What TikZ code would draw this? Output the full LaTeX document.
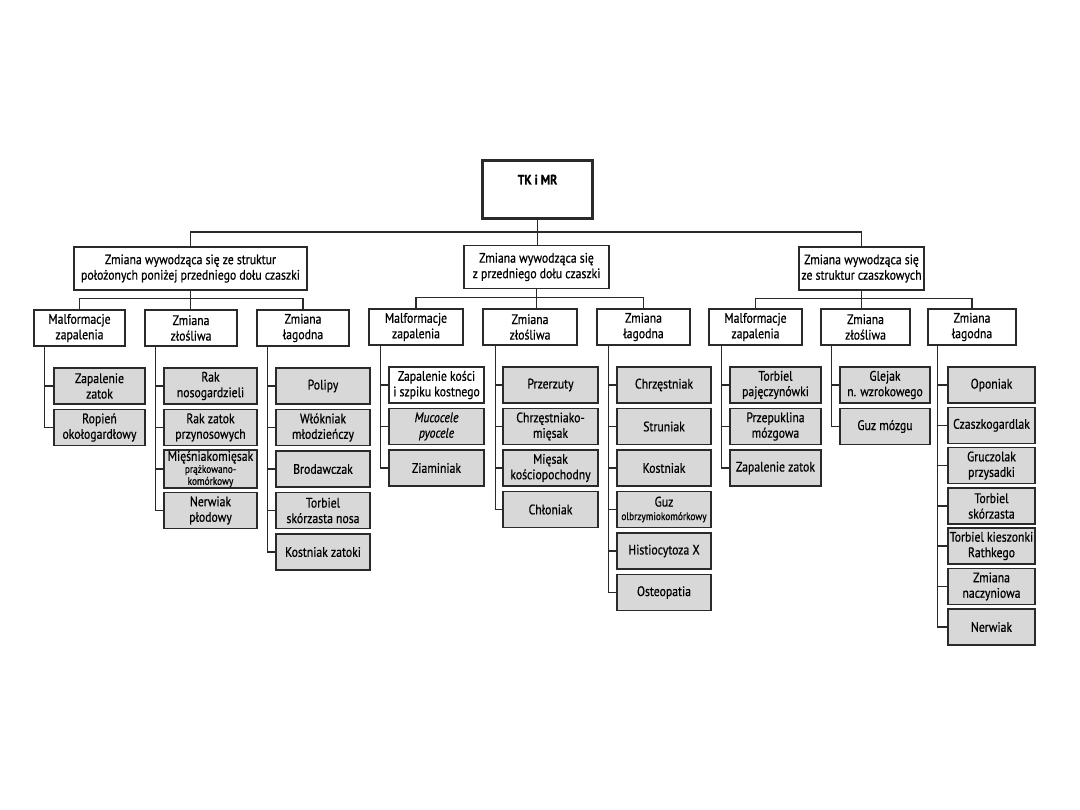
\documentclass[tikz,border=0pt]{standalone}
\usepackage{fontspec}
\setmainfont{PT Sans}[FakeStretch=0.85, FakeBold=0.6]
\newcommand\myfs{\fontsize{13.8}{15.5}\selectfont}
\newcommand\mysm{\fontsize{11}{11.5}\selectfont}
\definecolor{linec}{HTML}{2A2A2A}
\definecolor{leafc}{HTML}{D8D8D8}
\tikzset{
  base/.style={draw=linec, line width=1.3pt, align=center, inner sep=1pt, font=\myfs},
  lone/.style={base, fill=white, minimum height=43},
  ltwo/.style={base, fill=white, minimum height=36},
  leaf/.style={base, fill=leafc, minimum height=36},
  leafw/.style={base, fill=white, minimum height=36},
  tkbox/.style={draw=linec, line width=3pt, fill=white, minimum width=110, inner xsep=2pt, inner ysep=12pt, text height=12pt, text depth=22pt, font=\myfs\bfseries},
  conn/.style={draw=linec, line width=1.1pt},
}
\begin{document}
\begin{tikzpicture}[x=1pt,y=-1pt]
\path[use as bounding box, fill=white] (0,0) rectangle (1080,810);

\node[tkbox, anchor=north] (tk) at (537.5,159) {TK i MR};

\node[lone, minimum width=233] (A) at (190.5,268.5) {Zmiana wywodząca się ze struktur\\położonych poniżej przedniego dołu czaszki};
\node[lone, minimum width=145] (B) at (536.5,267) {Zmiana wywodząca się\\z przedniego dołu czaszki};
\node[lone, minimum width=125] (C) at (861.5,268.5) {Zmiana wywodząca się\\ze struktur czaszkowych};

\node[ltwo, minimum width=91] (A1) at (79.5,328) {Malformacje\\zapalenia};
\node[ltwo, minimum width=92] (A2) at (191,328) {Zmiana\\złośliwa};
\node[ltwo, minimum width=92] (A3) at (303,328) {Zmiana\\łagodna};
\node[ltwo, minimum width=94] (B1) at (416,327) {Malformacje\\zapalenia};
\node[ltwo, minimum width=94] (B2) at (530,327) {Zmiana\\złośliwa};
\node[ltwo, minimum width=93] (B3) at (643.5,327) {Zmiana\\łagodna};
\node[ltwo, minimum width=93] (C1) at (755.5,327) {Malformacje\\zapalenia};
\node[ltwo, minimum width=89] (C2) at (865.5,327) {Zmiana\\złośliwa};
\node[ltwo, minimum width=88] (C3) at (972,327) {Zmiana\\łagodna};

% left group leaves
\node[leaf, minimum width=91] (a11) at (99.5,386) {Zapalenie\\zatok};
\node[leaf, minimum width=91] (a12) at (99.5,427.5) {Ropień\\okołogardłowy};
\node[leaf, minimum width=93] (a21) at (210.5,386) {Rak\\nosogardzieli};
\node[leaf, minimum width=93] (a22) at (210.5,427.5) {Rak zatok\\przynosowych};
\node[leaf, minimum width=93, inner xsep=0pt] (a23) at (210.5,469) {Mięśniakomięsak\\[-3.5pt]{\mysm prążkowano-}\\[-3.5pt]{\mysm komórkowy}};
\node[leaf, minimum width=93] (a24) at (210.5,510.5) {Nerwiak\\płodowy};
\node[leaf, minimum width=94] (a31) at (323,386) {Polipy};
\node[leaf, minimum width=94] (a32) at (323,427.5) {Włókniak\\młodzieńczy};
\node[leaf, minimum width=94] (a33) at (323,469) {Brodawczak};
\node[leaf, minimum width=94] (a34) at (323,510.5) {Torbiel\\skórzasta nosa};
\node[leaf, minimum width=94] (a35) at (323,552) {Kostniak zatoki};

% middle group leaves
\node[leafw, minimum width=95] (b11) at (436.5,385) {Zapalenie kości\\i szpiku kostnego};
\node[leaf, minimum width=95] (b12) at (436.5,426.5) {\itshape Mucocele\\\itshape pyocele};
\node[leaf, minimum width=95] (b13) at (436.5,468) {Ziaminiak};
\node[leaf, minimum width=95] (b21) at (550.5,385) {Przerzuty};
\node[leaf, minimum width=95] (b22) at (550.5,426.5) {Chrzęstniako-\\mięsak};
\node[leaf, minimum width=95] (b23) at (550.5,468) {Mięsak\\kościopochodny};
\node[leaf, minimum width=95] (b24) at (550.5,509.5) {Chłoniak};
\node[leaf, minimum width=94] (b31) at (664,385) {Chrzęstniak};
\node[leaf, minimum width=94] (b32) at (664,426.5) {Struniak};
\node[leaf, minimum width=94] (b33) at (664,468) {Kostniak};
\node[leaf, minimum width=94, inner xsep=0pt] (b34) at (664,509.5) {Guz\\[-2pt]{\mysm olbrzymiokomórkowy}};
\node[leaf, minimum width=94] (b35) at (664,551) {Histiocytoza X};
\node[leaf, minimum width=94] (b36) at (664,592.5) {Osteopatia};

% right group leaves
\node[leaf, minimum width=91] (c11) at (775.5,385) {Torbiel\\pajęczynówki};
\node[leaf, minimum width=91] (c12) at (775.5,426.5) {Przepuklina\\mózgowa};
\node[leaf, minimum width=91] (c13) at (775.5,468) {Zapalenie zatok};
\node[leaf, minimum width=90] (c21) at (885,385) {Glejak\\n. wzrokowego};
\node[leaf, minimum width=90] (c22) at (885,426.5) {Guz mózgu};
\node[leaf, minimum width=87] (c31) at (991.5,385) {Oponiak};
\node[leaf, minimum width=87] (c32) at (991.5,425.3) {Czaszkogardlak};
\node[leaf, minimum width=87] (c33) at (991.5,465.6) {Gruczolak\\przysadki};
\node[leaf, minimum width=87] (c34) at (991.5,506) {Torbiel\\skórzasta};
\node[leaf, minimum width=87, inner xsep=0pt] (c35) at (991.5,546) {Torbiel kieszonki\\Rathkego};
\node[leaf, minimum width=87] (c36) at (991.5,586.5) {Zmiana\\naczyniowa};
\node[leaf, minimum width=87] (c37) at (991.5,627) {Nerwiak};

% top connectors
\draw[conn] (tk.south) -- ++(0,12) -| (A.north);
\draw[conn] (tk.south) -- ++(0,12) -| (C.north);
\draw[conn] (tk.south) -- (tk.south |- B.north);

% level 1 to level 2
\foreach \P in {A,B,C}{
  \draw[conn] (\P.south) -- ++(0,8) -| (\P1.north);
  \draw[conn] (\P.south) -- ++(0,8) -| (\P3.north);
  \draw[conn] (\P.south) -- (\P.south |- \P2.north);
}

% level 2 to leaves
\foreach \L in {a11,a12}{\draw[conn] ([xshift=11.5pt]A1.south west) |- (\L.west);}
\foreach \L in {a21,a22,a23,a24}{\draw[conn] ([xshift=11.5pt]A2.south west) |- (\L.west);}
\foreach \L in {a31,a32,a33,a34,a35}{\draw[conn] ([xshift=11.5pt]A3.south west) |- (\L.west);}
\foreach \L in {b11,b12,b13}{\draw[conn] ([xshift=12pt]B1.south west) |- (\L.west);}
\foreach \L in {b21,b22,b23,b24}{\draw[conn] ([xshift=13pt]B2.south west) |- (\L.west);}
\foreach \L in {b31,b32,b33,b34,b35,b36}{\draw[conn] ([xshift=12pt]B3.south west) |- (\L.west);}
\foreach \L in {c11,c12,c13}{\draw[conn] ([xshift=13pt]C1.south west) |- (\L.west);}
\foreach \L in {c21,c22}{\draw[conn] ([xshift=11pt]C2.south west) |- (\L.west);}
\foreach \L in {c31,c32,c33,c34,c35,c36,c37}{\draw[conn] ([xshift=10pt]C3.south west) |- (\L.west);}
\end{tikzpicture}
\end{document}
